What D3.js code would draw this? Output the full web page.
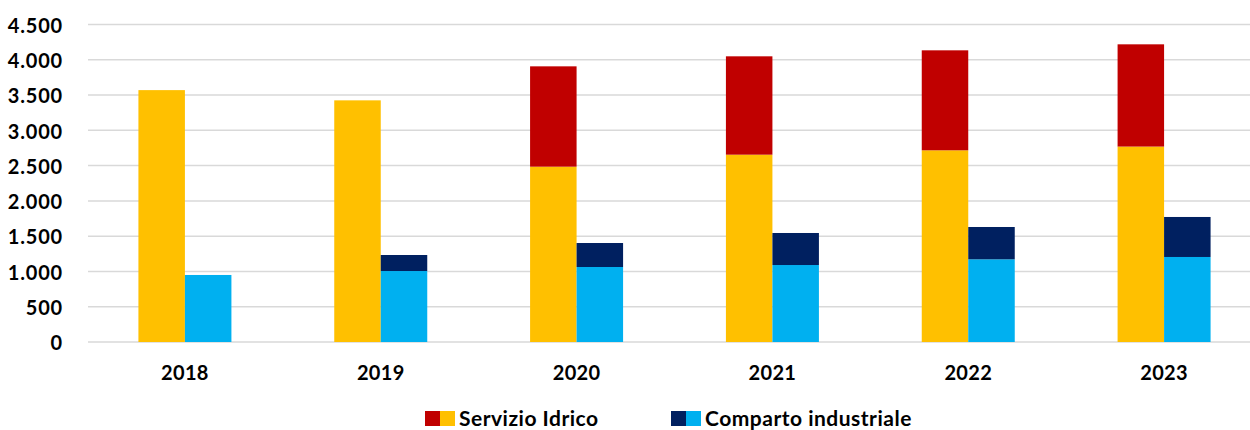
<!DOCTYPE html>
<html>
<head>
<meta charset="utf-8">
<script src="https://cdn.jsdelivr.net/npm/d3@7"></script>
<style>
  html, body { margin: 0; padding: 0; background: #fff; }
  svg { display: block; }
  text { font-family: Lato, "Open Sans", sans-serif; font-weight: 700; fill: #000; }
</style>
</head>
<body>
<svg id="chart" width="1250" height="430"></svg>
<script>
// Years on the category axis
const years = ["2018", "2019", "2020", "2021", "2022", "2023"];

// Servizio Idrico: lower (yellow) and upper (red) parts of the stack
const idricoBase  = [3570, 3425, 2485, 2655, 2717, 2770];
const idricoExtra = [0, 0, 1422, 1394, 1417, 1449];

// Comparto industriale: lower (light blue) and upper (navy) parts
const industrialeBase  = [950, 1006, 1063, 1091, 1172, 1205];
const industrialeExtra = [0, 227, 340, 454, 458, 567];

// Y axis ticks
const yTicks = [0, 500, 1000, 1500, 2000, 2500, 3000, 3500, 4000, 4500];

const groups = ["Servizio Idrico", "Comparto industriale"];
const colors = {
  idricoBase: "#FFC000", idricoExtra: "#C00000",
  industrialeBase: "#00B0F0", industrialeExtra: "#002060"
};

const svg = d3.select("#chart");
const W = 1250;

const x = d3.scaleBand().domain(years).range([87, 1262]).padding(0);
const y = d3.scaleLinear().domain([0, 4500]).range([342, 24.5]);
const barW = 46.5;
const sub = d3.scaleBand().domain(groups).range([-barW, barW]).padding(0);

const it = d3.formatLocale({ decimal: ",", thousands: ".", grouping: [3], currency: ["€", ""] });
const fmt = it.format(",d");

// Horizontal gridlines
svg.append("g")
  .selectAll("line")
  .data(yTicks)
  .join("line")
  .attr("x1", 88).attr("x2", W)
  .attr("y1", d => y(d)).attr("y2", d => y(d))
  .attr("stroke", "#d9d9d9").attr("stroke-width", 1.5);

// Y axis labels
const yAxis = d3.axisLeft(y).tickValues(yTicks).tickFormat(fmt).tickSize(0).tickPadding(0);
const gy = svg.append("g").attr("transform", "translate(63,0.8)").call(yAxis);
gy.select(".domain").remove();
gy.selectAll("text").attr("font-size", 20).attr("dy", "0.35em")
  .style("letter-spacing", "0.8px")
  .style("font-family", "Lato, sans-serif").style("font-weight", 700).attr("fill", "#000");

// X axis labels
const xAxis = d3.axisBottom(x).tickSize(0).tickPadding(0);
const gx = svg.append("g").attr("transform", "translate(0,372.5)").call(xAxis);
gx.select(".domain").remove();
gx.selectAll("text").attr("font-size", 20).attr("dy", "0.35em").attr("y", 0)
  .style("letter-spacing", "0.3px")
  .style("font-family", "Lato, sans-serif").style("font-weight", 700).attr("fill", "#000");

// Stacked bars
const series = [
  { group: "Servizio Idrico", base: idricoBase, extra: idricoExtra, c0: colors.idricoBase, c1: colors.idricoExtra },
  { group: "Comparto industriale", base: industrialeBase, extra: industrialeExtra, c0: colors.industrialeBase, c1: colors.industrialeExtra }
];

series.forEach(s => {
  const g = svg.append("g");
  const rows = years.map((yr, i) => ({ yr, base: s.base[i], extra: s.extra[i] }));
  const xl = d => x(d.yr) + x.bandwidth() / 2 + sub(s.group);
  g.selectAll("rect.base")
    .data(rows).join("rect").attr("class", "base")
    .attr("x", xl).attr("width", sub.bandwidth())
    .attr("y", d => y(d.base)).attr("height", d => y(0) - y(d.base))
    .attr("fill", s.c0);
  g.selectAll("rect.extra")
    .data(rows.filter(d => d.extra > 0)).join("rect").attr("class", "extra")
    .attr("x", xl).attr("width", sub.bandwidth())
    .attr("y", d => y(d.base + d.extra)).attr("height", d => y(d.base) - y(d.base + d.extra))
    .attr("fill", s.c1);
});

// Legend
const legend = [
  { label: "Servizio Idrico", c: [colors.idricoExtra, colors.idricoBase], x: 425 },
  { label: "Comparto industriale", c: [colors.industrialeExtra, colors.industrialeBase], x: 671 }
];
const lg = svg.append("g");
legend.forEach(l => {
  lg.append("rect").attr("x", l.x).attr("y", 411).attr("width", 15).attr("height", 15).attr("fill", l.c[0]);
  lg.append("rect").attr("x", l.x + 15).attr("y", 411).attr("width", 15).attr("height", 15).attr("fill", l.c[1]);
  lg.append("text").attr("x", l.x + 34).attr("y", 418.5).attr("dy", "0.35em")
    .attr("font-size", 21).style("letter-spacing", "0.5px").text(l.label);
});
</script>
</body>
</html>
